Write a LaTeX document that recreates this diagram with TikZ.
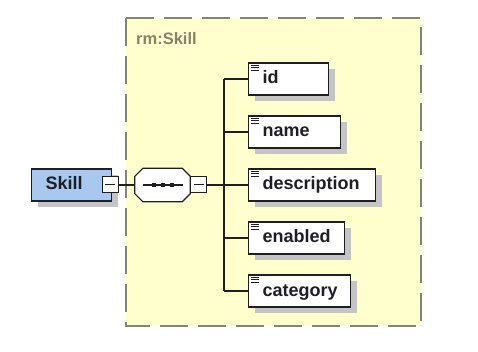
\documentclass[tikz,border=0pt]{standalone}
\usepackage{fontspec}
\setmainfont{Liberation Sans}
\usetikzlibrary{calc,shadows}

\definecolor{panelfill}{RGB}{255,255,206}
\definecolor{paneledge}{RGB}{132,132,116}
\definecolor{titlecol}{RGB}{132,132,104}
\definecolor{elemblue}{RGB}{168,200,240}
\definecolor{shade}{RGB}{196,196,196}
\definecolor{ink}{RGB}{30,30,36}

% outline of the sequence compositor, chamfered by 8pt
\newcommand{\octoutline}{
  ($(seq.north west)+(8,0)$) -- ($(seq.north east)+(-8,0)$) --
  ($(seq.north east)+(0,8)$) -- ($(seq.south east)+(0,-8)$) --
  ($(seq.south east)+(-8,0)$) -- ($(seq.south west)+(8,0)$) --
  ($(seq.south west)+(0,-8)$) -- ($(seq.north west)+(0,8)$) -- cycle}

\begin{document}
\begin{tikzpicture}[x=1pt,y=-1pt,
  every node/.style={font=\fontsize{18}{20}\selectfont\bfseries, text=ink},
  boxshadow/.style={drop shadow={shadow xshift=6pt, shadow yshift=-6pt, fill=shade, opacity=1}},
  elem/.style={draw=ink, line width=1.2pt, fill=white, boxshadow,
    minimum height=32pt, anchor=west, inner xsep=14pt, inner ysep=0pt,
    text height=13.5pt, text depth=3.5pt, align=left},
  toggle/.style={draw=ink, line width=1pt, fill=white, minimum size=16pt, inner sep=0pt},
  wire/.style={draw=ink, line width=1.2pt},
]
\useasboundingbox (0,0) rectangle (478,352);

% complex type panel
\draw[fill=panelfill, draw=paneledge, line width=1.3pt, dash pattern=on 28pt off 10pt]
  (126,18) rectangle (421,326);
\node[font=\fontsize{16.5}{18}\selectfont\bfseries, text=titlecol, anchor=base west, inner sep=0pt]
  (title) at (136,45) {rm:Skill};

% element and sequence anchors
\node[elem, fill=elemblue, text width=52pt] (skill) at (31,185) {Skill};
\node[minimum width=55pt, minimum height=33pt, inner sep=0pt] (seq) at (162.5,185) {};
\node[toggle] (skillminus) at (110,185) {};
\node[toggle] (seqminus) at (198.5,185) {};
\coordinate (bus) at (224,185);

% child elements
\node[elem, text width=52pt] (id) at (248,79) {id};
\node[elem, text width=64pt] (name) at (248,132) {name};
\node[elem, text width=99pt] (description) at (248,185) {description};
\node[elem, text width=68pt] (enabled) at (248,238) {enabled};
\node[elem, text width=74pt] (category) at (248,291) {category};

% connectors
\draw[wire] (skillminus.east) -- (seq.west);
\draw[wire] (seqminus.east) -- (bus);
\draw[wire] (bus |- id.west) -- (bus |- category.west);
\foreach \n in {id,name,description,enabled,category}
  \draw[wire] (bus |- \n.west) -- (\n.west);

% sequence compositor (octagon) with its shadow
\fill[shade, shift={(6,6)}] \octoutline;
\draw[fill=white, draw=ink, line width=1.2pt] \octoutline;
\draw[ink, line width=1.2pt] ($(seq.center)+(-20,0)$) -- ($(seq.center)+(20,0)$);
\foreach \dx in {-9,0,9}
  \fill[ink] ($(seq.center)+(\dx-2,-2)$) rectangle ($(seq.center)+(\dx+2,2)$);

% minus signs of the collapse toggles
\foreach \m in {skillminus,seqminus}
  \draw[ink, line width=1pt] ([xshift=3.5pt]\m.west) -- ([xshift=-3.5pt]\m.east);

% simple-content marks on child elements
\foreach \n in {id,name,description,enabled,category}
  \foreach \dy in {3,5.3,7.6}
    \draw[ink, line width=0.9pt] ([xshift=3pt,yshift=-\dy pt]\n.north west) -- ++(7.5,0);
\end{tikzpicture}
\end{document}
